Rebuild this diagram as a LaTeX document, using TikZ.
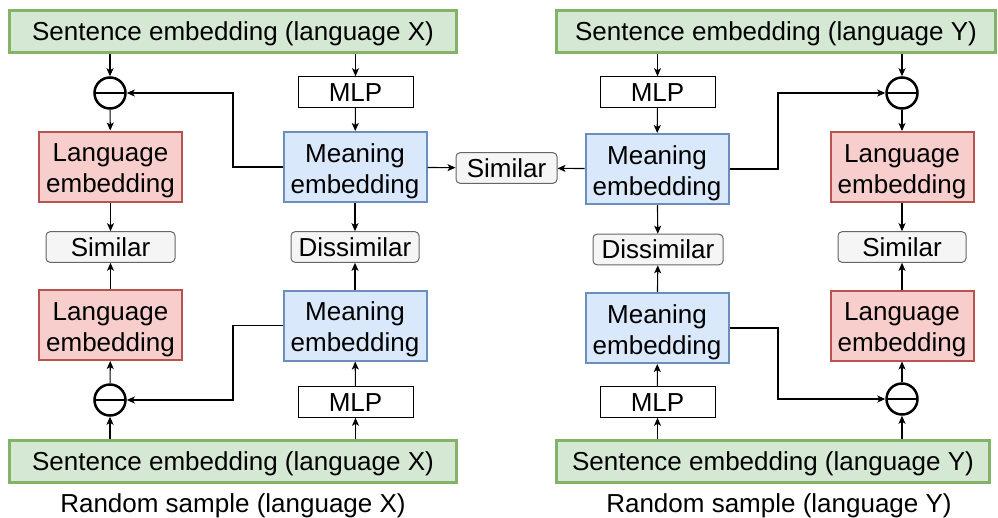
\documentclass[tikz,border=0pt]{standalone}
\usepackage{fontspec}
\setmainfont{Liberation Sans}
\usetikzlibrary{arrows.meta}

\definecolor{sfill}{HTML}{D5E8D4}
\definecolor{sline}{HTML}{82B366}
\definecolor{lfill}{HTML}{F8CECC}
\definecolor{lline}{HTML}{B85450}
\definecolor{mfill}{HTML}{DAE8FC}
\definecolor{mline}{HTML}{6C8EBF}
\definecolor{tfill}{HTML}{F5F5F5}
\definecolor{tline}{HTML}{666666}

\begin{document}
\begin{tikzpicture}[x=1pt,y=-1pt, >={Stealth[length=8pt,width=7pt,inset=2pt]},
    every node/.style={font=\fontsize{26}{31}\selectfont, inner sep=0pt, align=center},
    one/.style={text height=24.6pt, text depth=6pt},
    two/.style={text height=58pt, text depth=5.6pt},
    snode/.style={one, draw=sline, fill=sfill, line width=3pt, minimum height=42pt},
    lnode/.style={two, draw=lline, fill=lfill, line width=2pt, minimum width=143pt, minimum height=70pt},
    mnode/.style={two, draw=mline, fill=mfill, line width=2pt, minimum width=143pt, minimum height=70pt},
    pnode/.style={one, draw, line width=1pt, minimum width=115pt, minimum height=29pt},
    tnode/.style={one, draw=tline, fill=tfill, line width=1pt, rounded corners=4pt, minimum height=29pt},
    onode/.style={draw, circle, line width=2.5pt, minimum size=31pt,
        path picture={\draw[line width=2.5pt] (path picture bounding box.west) -- (path picture bounding box.east);}}]
    \useasboundingbox (0,0) rectangle (998,517);

    % language X
    \node[snode, minimum width=447pt] (sx) at (233,31) {Sentence embedding (language X)};
    \node[snode, minimum width=447pt] (sxb) at (233,461.5) {Sentence embedding (language X)};
    \node[one] (rx) at (233,503) {Random sample (language X)};
    \node[onode] (ox) at (110,93) {};
    \node[lnode] (lx) at (110.5,166.5) {Language\\embedding};
    \node[tnode, minimum width=129pt] (tx) at (110.5,247) {Similar};
    \node[lnode] (lxb) at (110.5,325) {Language\\embedding};
    \node[onode] (oxb) at (110,400) {};
    \node[pnode] (px) at (355.5,92) {MLP};
    \node[mnode] (mx) at (355,167) {Meaning\\embedding};
    \node[tnode, minimum width=128pt] (dx) at (355,247) {Dissimilar};
    \node[mnode] (mxb) at (355,325.5) {Meaning\\embedding};
    \node[pnode, minimum height=28pt] (pxb) at (355.5,402) {MLP};
    \coordinate (jx) at (233,0);

    \node[tnode, minimum width=101pt] (tc) at (506.5,168) {Similar};

    % language Y
    \node[snode, minimum width=439pt] (sy) at (776,31) {Sentence embedding (language Y)};
    \node[snode, minimum width=433pt] (syb) at (773,461.5) {Sentence embedding (language Y)};
    \node[one] (ry) at (779,503) {Random sample (language Y)};
    \node[pnode] (py) at (657.5,92) {MLP};
    \node[mnode] (my) at (657,169) {Meaning\\embedding};
    \node[tnode, minimum width=130pt] (dy) at (658,249.5) {Dissimilar};
    \node[mnode] (myb) at (657,328) {Meaning\\embedding};
    \node[pnode, minimum height=28pt] (pyb) at (657.5,402) {MLP};
    \node[onode] (oy) at (902,93) {};
    \node[lnode] (ly) at (902,167) {Language\\embedding};
    \node[tnode, minimum width=128pt] (ty) at (902,247) {Similar};
    \node[lnode] (lyb) at (902,325.5) {Language\\embedding};
    \node[onode] (oyb) at (902,399) {};
    \coordinate (jy) at (778,0);

    \begin{scope}[line width=1.1pt]
    \draw[->] (ox |- sx.south) -- (ox);
    \draw[->] (ox) -- (lx);
    \draw[->] (lx) -- (tx);
    \draw[->] (lxb) -- (tx);
    \draw[->] (oxb) -- (lxb);
    \draw[->] (oxb |- sxb.north) -- (oxb);
    \draw[->] (px |- sx.south) -- (px);
    \draw[->] (px) -- (mx);
    \draw[->] (mx) -- (dx);
    \draw[->] (mxb) -- (dx);
    \draw[->] (pxb) -- (mxb);
    \draw[->] (pxb |- sxb.north) -- (pxb);
    \draw[->] (mx.west) -- (jx |- mx.west) |- (ox);
    \draw[->] (mxb.west) -- (jx |- mxb.west) |- (oxb);

    \draw[->] (mx) -- (tc);
    \draw[->] (my) -- (tc);

    \draw[->] (py |- sy.south) -- (py);
    \draw[->] (py) -- (my);
    \draw[->] (my) -- (dy);
    \draw[->] (myb) -- (dy);
    \draw[->] (pyb) -- (myb);
    \draw[->] (pyb |- syb.north) -- (pyb);
    \draw[->] (oy |- sy.south) -- (oy);
    \draw[->] (oy) -- (ly);
    \draw[->] (ly) -- (ty);
    \draw[->] (lyb) -- (ty);
    \draw[->] (oyb) -- (lyb);
    \draw[->] (oyb |- syb.north) -- (oyb);
    \draw[->] (my.east) -- (jy |- my.east) |- (oy);
    \draw[->] (myb.east) -- (jy |- myb.east) |- (oyb);
    \end{scope}
\end{tikzpicture}
\end{document}
